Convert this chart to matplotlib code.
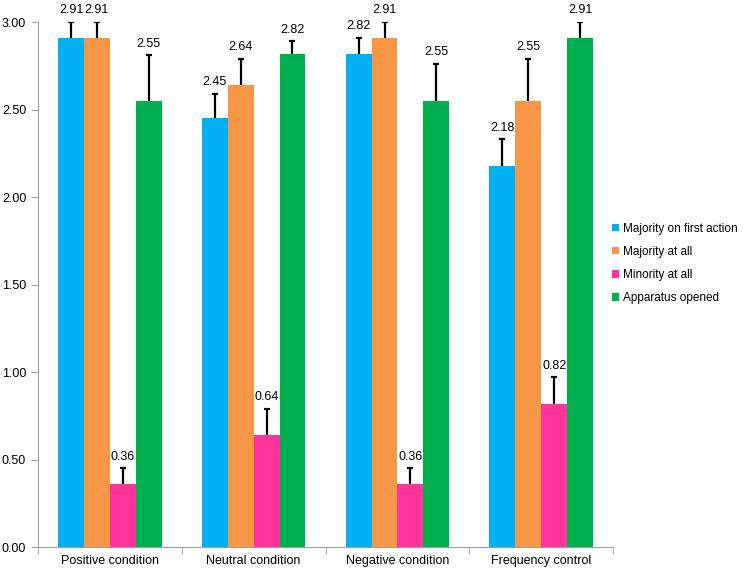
import numpy as np
import matplotlib.pyplot as plt

plt.rcParams['font.family'] = ['Liberation Sans', 'DejaVu Sans']

categories = ["Positive condition", "Neutral condition", "Negative condition", "Frequency control"]
series = ["Majority on first action", "Majority at all", "Minority at all", "Apparatus opened"]
values = [
    [2.91, 2.45, 2.82, 2.18],
    [2.91, 2.64, 2.91, 2.55],
    [0.36, 0.64, 0.36, 0.82],
    [2.55, 2.82, 2.55, 2.91],
]
errors = [
    [0.09, 0.14, 0.09, 0.15],
    [0.09, 0.15, 0.09, 0.24],
    [0.09, 0.15, 0.09, 0.15],
    [0.26, 0.07, 0.21, 0.09],
]
colors = ["#00B0F0", "#F79646", "#FF3399", "#00B050"]

fig = plt.figure(figsize=(7.45, 5.72), dpi=100)
ax = fig.add_axes([0.051, 0.0437, 0.772, 0.9178])

x = np.arange(len(categories))
width = 0.18
for i in range(len(series)):
    pos = x + (i - 1.5) * width
    ax.bar(pos, values[i], width, color=colors[i], label=series[i], zorder=3)
    # symmetric error bars drawn behind the bars so only the upper half shows
    ax.errorbar(pos, values[i], yerr=errors[i], fmt="none",
                ecolor="black", elinewidth=1.6, capsize=2, capthick=1.6, zorder=2)
    for p, v, e in zip(pos, values[i], errors[i]):
        ax.annotate("%.2f" % v, (p, v + e), xytext=(0, 4), textcoords="offset points",
                    ha="center", va="bottom", fontsize=9)

ax.set_xlim(-0.5, 3.5)
ax.set_ylim(0, 3.0)
ax.set_yticks(np.arange(0, 3.01, 0.5))
ax.set_yticklabels(["%.2f" % t for t in np.arange(0, 3.01, 0.5)], fontsize=9)
ax.set_xticks(x)
ax.set_xticklabels(categories, fontsize=9)
ax.tick_params(axis="x", length=0, pad=6)
ax.set_xticks(np.arange(-0.5, 4, 1), minor=True)
ax.tick_params(axis="x", which="minor", length=5, color="#A0A0A0")
ax.tick_params(axis="y", length=5, color="#A0A0A0")
for s in ["top", "right"]:
    ax.spines[s].set_visible(False)
for s in ["left", "bottom"]:
    ax.spines[s].set_color("#A0A0A0")

ax.legend(loc="center left", bbox_to_anchor=(0.998, 0.54), frameon=False, fontsize=8.5,
          borderaxespad=0, borderpad=0,
          handlelength=0.6, handleheight=0.6, handletextpad=0.3, labelspacing=0.95)

fig.savefig("out.png", dpi=100)
